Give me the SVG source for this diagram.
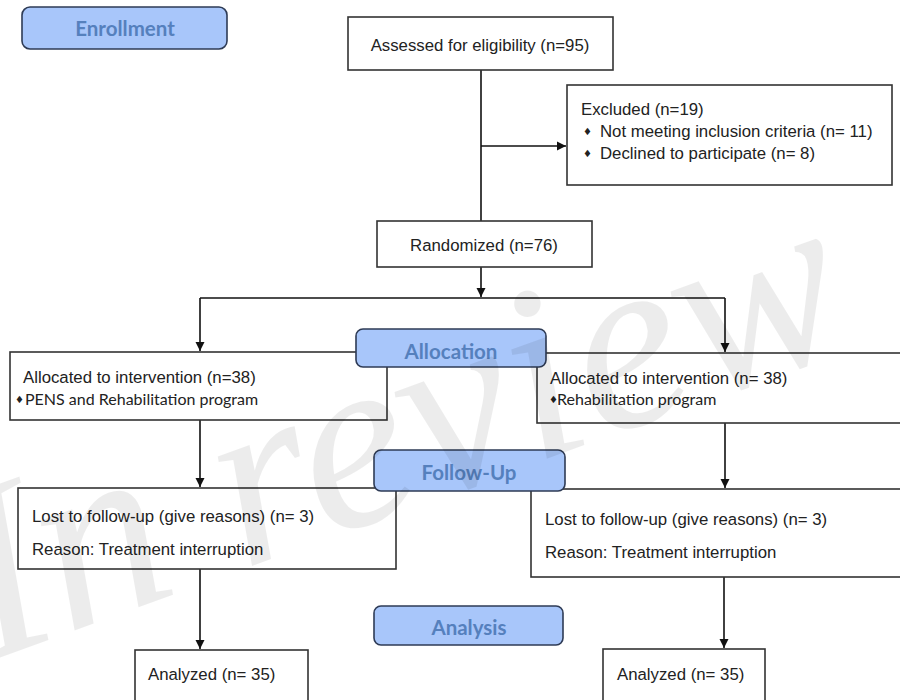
<svg xmlns="http://www.w3.org/2000/svg" width="900" height="700" viewBox="0 0 900 700">
<defs>
<marker id="arr" markerWidth="10" markerHeight="10" refX="9" refY="5" orient="auto" markerUnits="userSpaceOnUse">
<path d="M0,0.5 L9,5 L0,9.5 Z" fill="#111"/>
</marker>
<style>
.box{fill:#fff;stroke:#333;stroke-width:1.6}
.lbl{fill:#a8c6fa;stroke:#2e3b55;stroke-width:1.6}
.lt{font-family:Lato,"Open Sans",sans-serif;font-weight:bold;font-size:20.5px;fill:#5580bd;text-anchor:middle}
.t{font-family:"Liberation Sans",Arial,sans-serif;font-size:16.8px;fill:#222}
.s{font-family:Lato,"Open Sans",sans-serif;font-size:16px;fill:#222}
.b{font-family:"DejaVu Sans",sans-serif;font-size:10px;fill:#222}
.c{fill:none;stroke:#111;stroke-width:1.6}
</style>
</defs>
<rect width="900" height="700" fill="#fff"/>

<g id="connectors">
<path class="c" d="M481,70 V221"/>
<path class="c" d="M481,146 H566" marker-end="url(#arr)"/>
<path class="c" d="M481,267 V297" marker-end="url(#arr)"/>
<path class="c" d="M200,298 H725"/>
<path class="c" d="M200,298 V351" marker-end="url(#arr)"/>
<path class="c" d="M725,298 V352" marker-end="url(#arr)"/>
<path class="c" d="M200,420 V487" marker-end="url(#arr)"/>
<path class="c" d="M725,423 V488" marker-end="url(#arr)"/>
<path class="c" d="M200,569 V649" marker-end="url(#arr)"/>
<path class="c" d="M724,577 V648" marker-end="url(#arr)"/>
</g>

<g id="enrollment"><rect class="lbl" x="22" y="7" width="205" height="42" rx="8"/><text class="lt" x="125" y="36">Enrollment</text></g>

<g id="assessed"><rect class="box" x="348" y="17" width="265" height="53"/><text class="t" x="480" y="51" text-anchor="middle">Assessed for eligibility (n=95)</text></g>

<g id="excluded"><rect class="box" x="567" y="85" width="325" height="100"/>
<text class="t" x="581" y="115">Excluded (n=19)</text>
<text class="b" x="583" y="135">♦</text><text class="t" x="600" y="137">Not meeting inclusion criteria (n= 11)</text>
<text class="b" x="583" y="157">♦</text><text class="t" x="600" y="159">Declined to participate (n= 8)</text>
</g>

<g id="randomized"><rect class="box" x="377" y="221" width="215" height="46"/><text class="t" x="484" y="251" text-anchor="middle">Randomized (n=76)</text></g>

<g id="alloc-left"><rect class="box" x="10" y="352" width="377" height="68"/>
<text class="t" x="23" y="383">Allocated to intervention (n=38)</text>
<text class="b" x="15" y="403">♦</text><text class="s" x="25" y="405">PENS and Rehabilitation program</text>
</g>

<g id="alloc-right"><rect class="box" x="537" y="353" width="400" height="70"/>
<text class="t" x="550" y="384">Allocated to intervention (n= 38)</text>
<text class="b" x="549" y="403">♦</text><text class="s" x="557" y="405">Rehabilitation program</text>
</g>

<g id="allocation"><rect class="lbl" x="356" y="329" width="190" height="38" rx="7"/><text class="lt" x="451" y="359">Allocation</text></g>

<g id="lost-left"><rect class="box" x="18" y="488" width="378" height="81"/>
<text class="t" x="32" y="522">Lost to follow-up (give reasons) (n= 3)</text>
<text class="t" x="32" y="555">Reason: Treatment interruption</text>
</g>

<g id="lost-right"><rect class="box" x="531" y="489" width="400" height="88"/>
<text class="t" x="545" y="525">Lost to follow-up (give reasons) (n= 3)</text>
<text class="t" x="545" y="558">Reason: Treatment interruption</text>
</g>

<g id="followup"><rect class="lbl" x="374" y="450" width="191" height="41" rx="7"/><text class="lt" x="469" y="480">Follow-Up</text></g>

<g id="analysis"><rect class="lbl" x="374" y="606" width="189" height="39" rx="7"/><text class="lt" x="469" y="635">Analysis</text></g>

<g id="analyzed-left"><rect class="box" x="135" y="650" width="173" height="60"/><text class="t" x="148" y="680">Analyzed (n= 35)</text></g>

<g id="analyzed-right"><rect class="box" x="603" y="649" width="162" height="60"/><text class="t" x="617" y="680">Analyzed (n= 35)</text></g>

<g id="watermark"><text x="0" y="0" transform="translate(-12,662) rotate(-20)" font-family="'Liberation Serif',serif" font-style="italic" font-size="250" fill="#000" fill-opacity="0.075">In review</text></g>
</svg>
